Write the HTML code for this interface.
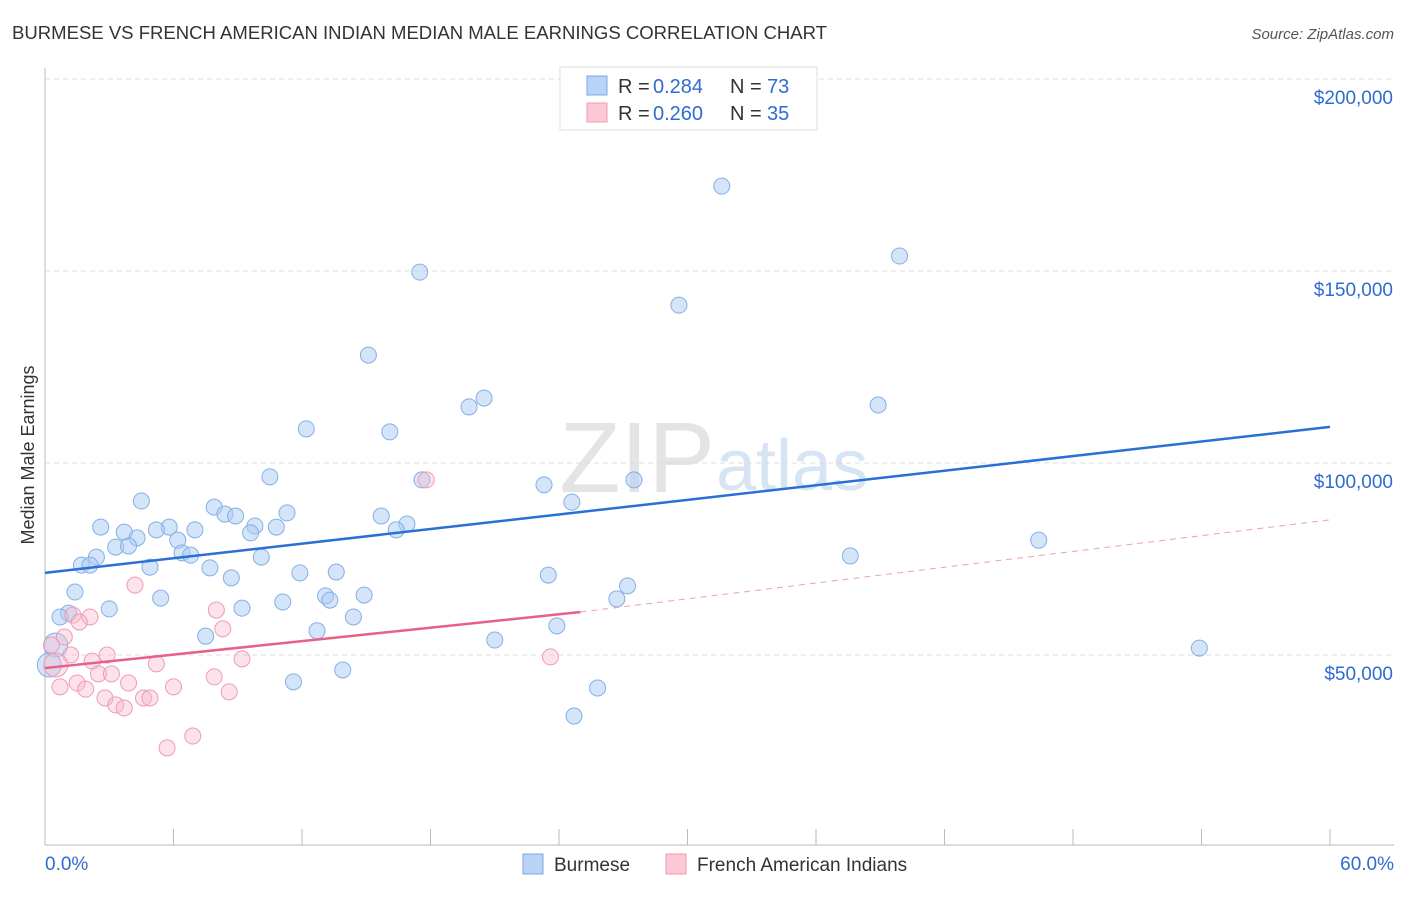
<!DOCTYPE html>
<html><head><meta charset="utf-8"><style>
body{margin:0;background:#fff;font-family:"Liberation Sans",sans-serif;}
svg text{font-family:"Liberation Sans",sans-serif;}
</style></head><body>
<svg id="chart" width="1406" height="892" xmlns="http://www.w3.org/2000/svg">
<text x="12" y="39" font-size="18" fill="#333" textLength="815" lengthAdjust="spacingAndGlyphs">BURMESE VS FRENCH AMERICAN INDIAN MEDIAN MALE EARNINGS CORRELATION CHART</text>
<text x="1394" y="39" font-size="15" fill="#555" font-style="italic" text-anchor="end">Source: ZipAtlas.com</text>
<text x="34" y="455" font-size="18" fill="#333" text-anchor="middle" transform="rotate(-90 34 455)">Median Male Earnings</text>
<text x="715" y="492" font-size="100" fill="#e4e4e4" font-family="Liberation Serif" text-anchor="end">ZIP</text>
<text x="716" y="490" font-size="72" fill="#d6e4f4">atlas</text>
<g id="grid"></g><g id="axes"></g><g id="pts"></g><g id="lines"></g>
<g>
<rect x="560" y="67" width="257" height="63" fill="#fff" stroke="#ddd"/>
<rect x="587" y="76" width="20" height="19" fill="#b7d3f5" stroke="#7aa8e6"/>
<rect x="587" y="103" width="20" height="19" fill="#fbc8d6" stroke="#f09ab4"/>
<text x="618" y="93" font-size="20" fill="#333">R =</text>
<text x="653" y="93" font-size="20" fill="#2f6bd0">0.284</text>
<text x="730" y="93" font-size="20" fill="#333">N =</text>
<text x="767" y="93" font-size="20" fill="#2f6bd0">73</text>
<text x="618" y="120" font-size="20" fill="#333">R =</text>
<text x="653" y="120" font-size="20" fill="#2f6bd0">0.260</text>
<text x="730" y="120" font-size="20" fill="#333">N =</text>
<text x="767" y="120" font-size="20" fill="#2f6bd0">35</text>
</g>
<g>
<rect x="523" y="854" width="20" height="20" fill="#b7d3f5" stroke="#7aa8e6"/>
<text x="554" y="871" font-size="19" fill="#333">Burmese</text>
<rect x="666" y="854" width="20" height="20" fill="#fbc8d6" stroke="#f09ab4"/>
<text x="697" y="871" font-size="19" fill="#333">French American Indians</text>
</g>
</svg>
<script>
const burmeseX=[31.6,39.9,17.5,29.6,15.1,20.5,19.8,38.9,12.2,16.1,10.5,17.6,27.5,23.3,4.5,24.6,7.9,8.4,8.9,11.3,15.7,2.6,5.8,5.2,7.0,9.8,10.8,16.9,16.4,3.7,9.6,4.3,6.2,46.4,3.3,3.9,6.4,6.8,2.4,10.1,37.6,1.7,2.1,4.9,7.7,11.9,13.6,23.5,8.7,27.2,1.4,13.1,14.9,5.4,26.7,13.3,11.1,3.0,9.2,1.1,0.7,14.4,23.9,12.7,7.5,21.0,53.9,0.5,0.2,13.9,11.6,25.8,24.7];
const burmeseY=[172.1,153.9,149.7,141.1,128.1,116.9,114.6,115.1,108.9,108.1,96.4,95.6,95.6,94.3,90.1,89.8,88.5,86.7,86.2,87.0,86.2,83.3,83.3,82.6,82.6,83.6,83.3,84.1,82.6,82.0,81.8,80.5,79.9,79.9,78.1,78.4,76.6,76.0,75.5,75.5,75.8,73.4,73.4,72.9,72.7,71.4,71.6,70.8,70.1,68.0,66.4,65.4,65.6,64.8,64.6,64.3,63.8,62.0,62.2,60.9,59.9,59.9,57.6,56.3,54.9,53.9,51.8,52.6,47.4,46.1,43.0,41.4,34.1];
const frenchX=[17.8,4.2,8.0,2.1,1.3,1.6,0.9,0.3,8.3,2.9,1.2,2.2,9.2,23.6,5.2,2.5,3.1,7.9,1.5,3.9,0.7,1.9,6.0,8.6,2.8,4.6,4.9,3.3,3.7,6.9,5.7,0.5];
const frenchY=[95.6,68.2,61.7,59.9,60.4,58.6,54.7,52.6,56.8,50.0,50.0,48.4,49.0,49.5,47.7,45.1,45.1,44.3,42.7,42.7,41.7,41.1,41.7,40.4,38.8,38.8,38.8,37.0,36.2,28.9,25.8,47.4];
const yTicks=[50,100,150,200];
const yTickLabels=["$50,000","$100,000","$150,000","$200,000"];
const blueTrend=[71.4,109.4];
const pinkTrend=[46.6,61.2,85.2];
const pinkSolidEnd=25;
const NS="http://www.w3.org/2000/svg";
const xs=p=>45+p*21.417, ys=v=>847-v*3.84;
function mk(t,a,p){const e=document.createElementNS(NS,t);for(const k in a)e.setAttribute(k,a[k]);p.appendChild(e);return e;}
const grid=document.getElementById('grid'),axes=document.getElementById('axes'),pts=document.getElementById('pts'),lines=document.getElementById('lines');
yTicks.forEach((v,i)=>{
 const l=mk('line',{x1:45,x2:1394,y1:ys(v),y2:ys(v),stroke:'#ddd','stroke-dasharray':'5,4'},grid);
 
 
 const t=mk('text',{x:1393,y:ys(v)+25,'font-size':19,fill:'#2f6bd0','text-anchor':'end'},grid);
 t.textContent=yTickLabels[i];
 
 
});
mk('line',{x1:45,x2:1394,y1:845,y2:845,stroke:'#bbb'},axes);
mk('line',{x1:45,x2:45,y1:68,y2:845,stroke:'#bbb'},axes);
for(let i=0;i<=10;i++){const l=mk('line',{x1:xs(i*6),x2:xs(i*6),y1:829,y2:845,stroke:'#bbb'},axes);
 
 }
let t=mk('text',{x:45,y:870,'font-size':19,fill:'#2f6bd0'},axes);t.textContent='0.0%';


t=mk('text',{x:1394,y:870,'font-size':19,fill:'#2f6bd0','text-anchor':'end'},axes);t.textContent='60.0%';


burmeseX.forEach((x,i)=>{const big=(x<0.6&&i>60);const c=mk('circle',{cx:xs(x),cy:ys(burmeseY[i]),r:big?12:8,fill:'rgba(170,203,244,0.5)',stroke:'#85afe6','stroke-width':1},pts);
 
 });
frenchX.forEach((x,i)=>{const big=(i===frenchX.length-1);const c=mk('circle',{cx:xs(x),cy:ys(frenchY[i]),r:big?12:8,fill:'rgba(248,185,205,0.4)',stroke:'#f09ab4','stroke-width':1},pts);
 
 });
let l=mk('line',{x1:xs(0),y1:ys(blueTrend[0]),x2:xs(60),y2:ys(blueTrend[1]),stroke:'#2a6fd6','stroke-width':2.5},lines);


l=mk('line',{x1:xs(0),y1:ys(pinkTrend[0]),x2:xs(pinkSolidEnd),y2:ys(pinkTrend[1]),stroke:'#e8608a','stroke-width':2.5},lines);


l=mk('line',{x1:xs(pinkSolidEnd),y1:ys(pinkTrend[1]),x2:xs(60),y2:ys(pinkTrend[2]),stroke:'#e8a0b8','stroke-width':1,'stroke-dasharray':'6,5'},lines);


</script>
</body></html>
